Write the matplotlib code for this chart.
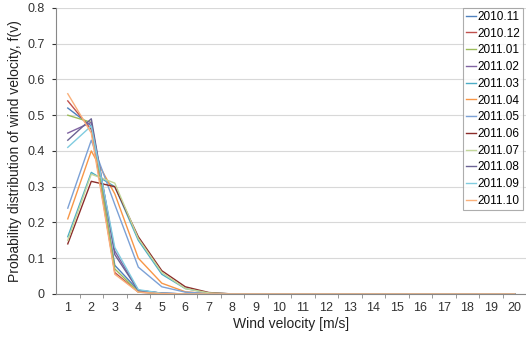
import numpy as np
import matplotlib.pyplot as plt

plt.rcParams['font.family'] = ['Liberation Sans', 'DejaVu Sans']

v = np.arange(1, 21)
months = ['2010.11', '2010.12', '2011.01', '2011.02', '2011.03', '2011.04',
          '2011.05', '2011.06', '2011.07', '2011.08', '2011.09', '2011.10']

s_1011 = [0.52, 0.47, 0.08, 0.01, 0.002]
s_1012 = [0.54, 0.46, 0.06, 0.005, 0.001]
s_1101 = [0.50, 0.48, 0.07, 0.006, 0.001]
s_1102 = [0.45, 0.48, 0.12, 0.01, 0.002]
s_1103 = [0.16, 0.34, 0.30, 0.15, 0.055, 0.015, 0.003]
s_1104 = [0.21, 0.40, 0.28, 0.10, 0.03, 0.006, 0.001]
s_1105 = [0.24, 0.43, 0.25, 0.075, 0.02, 0.005, 0.001]
s_1106 = [0.14, 0.315, 0.30, 0.16, 0.065, 0.02, 0.004]
s_1107 = [0.15, 0.335, 0.31, 0.155, 0.06, 0.015, 0.003]
s_1108 = [0.43, 0.49, 0.11, 0.01, 0.002]
s_1109 = [0.41, 0.47, 0.13, 0.012, 0.002]
s_1110 = [0.56, 0.45, 0.055, 0.005, 0.001]

series = [s_1011, s_1012, s_1101, s_1102, s_1103, s_1104,
          s_1105, s_1106, s_1107, s_1108, s_1109, s_1110]
colors = ['#4F81BD', '#C0504D', '#9BBB59', '#8064A2', '#4BACC6', '#F79646',
          '#7CA1D6', '#8C2D2A', '#C2D69A', '#6B6394', '#80CCE0', '#FAB07A']

fig = plt.figure(figsize=(5.26, 3.41), dpi=100)
ax = fig.add_axes([0.1065, 0.138, 0.894, 0.8387])

for name, vals, c in zip(months, series, colors):
    y = np.zeros(len(v))
    y[:len(vals)] = vals
    ax.plot(v, y, color=c, lw=1.0, label=name)

ax.set_xlim(0.5, 20.5)
ax.set_ylim(0, 0.8)
ax.set_yticks(np.arange(0, 0.81, 0.1))
ax.set_yticklabels(['0', '0.1', '0.2', '0.3', '0.4', '0.5', '0.6', '0.7', '0.8'])
ax.set_xticks(v)
ax.set_xticks(np.arange(1.5, 20.5, 1), minor=True)
ax.tick_params(axis='x', which='major', length=0, labelsize=9, colors='#333333', pad=6)
ax.tick_params(axis='x', which='minor', length=3, color='#888888')
ax.tick_params(axis='y', length=3, labelsize=9, colors='#333333', width=0.8, pad=5)
ax.grid(axis='y', color='#d8d8d8', lw=0.8)
ax.set_axisbelow(True)
for s in ['top', 'right']:
    ax.spines[s].set_visible(False)
ax.spines['left'].set_color('#888888')
ax.spines['bottom'].set_color('#888888')

ax.set_xlabel('Wind velocity [m/s]', fontsize=10, color='#222222', labelpad=2)
ax.set_ylabel('Probability distribution of wind velocity, f(v)', fontsize=10,
              color='#222222', labelpad=4)

leg = ax.legend(loc='upper right', bbox_to_anchor=(0.9935, 1.0), fontsize=8.5, frameon=True,
                fancybox=False, edgecolor='#999999', handlelength=0.85, handletextpad=0.15,
                labelspacing=0.4, borderpad=0.25, borderaxespad=0.0)
leg.get_frame().set_linewidth(0.8)

fig.savefig('out.png', dpi=100)
